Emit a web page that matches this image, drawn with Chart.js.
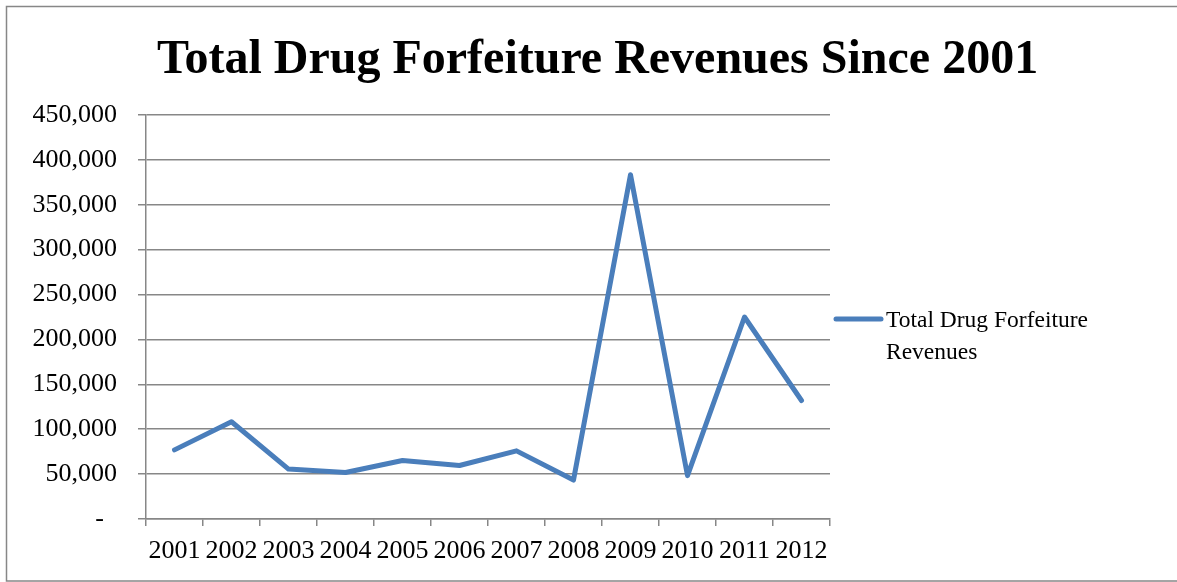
<!DOCTYPE html>
<html>
<head>
<meta charset="utf-8">
<title>Total Drug Forfeiture Revenues Since 2001</title>
<script src="https://cdn.jsdelivr.net/npm/chart.js@4/dist/chart.umd.min.js"></script>
<style>
    html, body { margin: 0; padding: 0; background: #fff; }
    #wrap { position: relative; width: 1177px; height: 582px; }
</style>
</head>
<body>
<div id="wrap"><canvas id="forfeiture-chart"></canvas></div>
<script>
// Receitas anuais de confisco (USD)
const years = ['2001', '2002', '2003', '2004', '2005', '2006', '2007', '2008', '2009', '2010', '2011', '2012'];
const revenues = [77000, 108300, 55600, 51800, 65100, 59600, 75900, 43400, 383400, 48300, 225000, 132000];
const yTicks = [0, 50000, 100000, 150000, 200000, 250000, 300000, 350000, 400000, 450000];

const seriesLabel = 'Total Drug Forfeiture Revenues';
const titleText = 'Total Drug Forfeiture Revenues Since 2001';

const SERIF = '"Liberation Serif", "Times New Roman", Times, serif';
const GRID = '#878787';
const BLUE = '#4a7ebb';

/** Moldura cinza em volta de toda a figura. */
const framePlugin = {
    id: 'frame',
    beforeDraw(chart) {
        const ctx = chart.ctx;
        ctx.save();
        ctx.fillStyle = '#fff';
        ctx.fillRect(0, 0, chart.width, chart.height);
        ctx.strokeStyle = GRID;
        ctx.lineWidth = 1.5;
        ctx.strokeRect(6.5, 6.5, chart.width + 20, chart.height - 7.5);
        ctx.restore();
    }
};

/** Legenda à direita: traço da série + rótulo quebrado em linhas. */
const sideLegendPlugin = {
    id: 'sideLegend',
    afterDraw(chart) {
        const ctx = chart.ctx;
        const ds = chart.data.datasets[0];
        const area = chart.chartArea;
        const lineX0 = area.right + 6;
        const lineX1 = area.right + 51;
        const midY = (area.top + area.bottom) / 2 + 2;
        const textX = area.right + 56;
        const maxWidth = chart.width - textX - 12;

        ctx.save();
        ctx.strokeStyle = ds.borderColor;
        ctx.lineWidth = ds.borderWidth;
        ctx.lineCap = 'round';
        ctx.beginPath();
        ctx.moveTo(lineX0, midY);
        ctx.lineTo(lineX1, midY);
        ctx.stroke();

        ctx.font = '23.5px ' + SERIF;
        ctx.fillStyle = '#000';
        ctx.textBaseline = 'alphabetic';
        const lines = [];
        let current = '';
        ds.label.split(' ').forEach(word => {
            const test = current ? current + ' ' + word : word;
            if (current && ctx.measureText(test).width > maxWidth) {
                lines.push(current);
                current = word;
            } else {
                current = test;
            }
        });
        if (current) lines.push(current);
        lines.forEach((line, i) => ctx.fillText(line, textX, midY + 8 + i * 31.5));
        ctx.restore();
    }
};

const ctx = document.getElementById('forfeiture-chart').getContext('2d');

new Chart(ctx, {
    type: 'line',
    data: {
        labels: years,
        datasets: [{
            label: seriesLabel,
            data: revenues,
            borderColor: BLUE,
            backgroundColor: BLUE,
            borderWidth: 5,
            borderCapStyle: 'round',
            borderJoinStyle: 'round',
            pointRadius: 0,
            pointHoverRadius: 0,
            tension: 0,
            fill: false,
            yAxisID: 'y'
        }]
    },
    options: {
        responsive: true,
        maintainAspectRatio: false,
        animation: false,
        layout: { padding: { left: 18, top: 0, right: 0, bottom: 0 } },
        plugins: {
            legend: { display: false },
            tooltip: { enabled: false },
            title: {
                display: true,
                text: titleText,
                color: '#000',
                font: { family: SERIF, size: 48, weight: 'bold', lineHeight: 1.2 },
                padding: { top: 32, bottom: 25.4 }
            }
        },
        scales: {
            x: {
                type: 'category',
                offset: true,
                grid: {
                    offset: true,
                    drawOnChartArea: false,
                    drawTicks: true,
                    tickLength: 7,
                    color: GRID,
                    lineWidth: 1.5
                },
                border: { display: true, color: GRID, width: 1.5 },
                ticks: {
                    color: '#000',
                    font: { family: SERIF, size: 26 },
                    autoSkip: false,
                    maxRotation: 0,
                    minRotation: 0,
                    padding: 10
                },
                afterFit: scale => { scale.height = 63; }
            },
            y: {
                position: 'left',
                min: 0,
                max: 450000,
                afterBuildTicks: scale => { scale.ticks = yTicks.map(v => ({ value: v })); },
                grid: {
                    color: GRID,
                    lineWidth: 1.5,
                    drawTicks: true,
                    tickLength: 8
                },
                border: { display: true, color: GRID, width: 1.5 },
                ticks: {
                    color: '#000',
                    font: { family: SERIF, size: 26 },
                    padding: 21,
                    callback: value => value === 0 ? '-  ' : value.toLocaleString('en-US')
                },
                afterFit: scale => { scale.width = 128; }
            },
            // eixo vazio à direita só para reservar o espaço da legenda
            side: {
                position: 'right',
                display: true,
                grid: { display: false, drawTicks: false },
                border: { display: false },
                ticks: { display: false },
                afterFit: scale => { scale.width = 347; }
            }
        }
    },
    plugins: [framePlugin, sideLegendPlugin]
});
</script>
</body>
</html>
